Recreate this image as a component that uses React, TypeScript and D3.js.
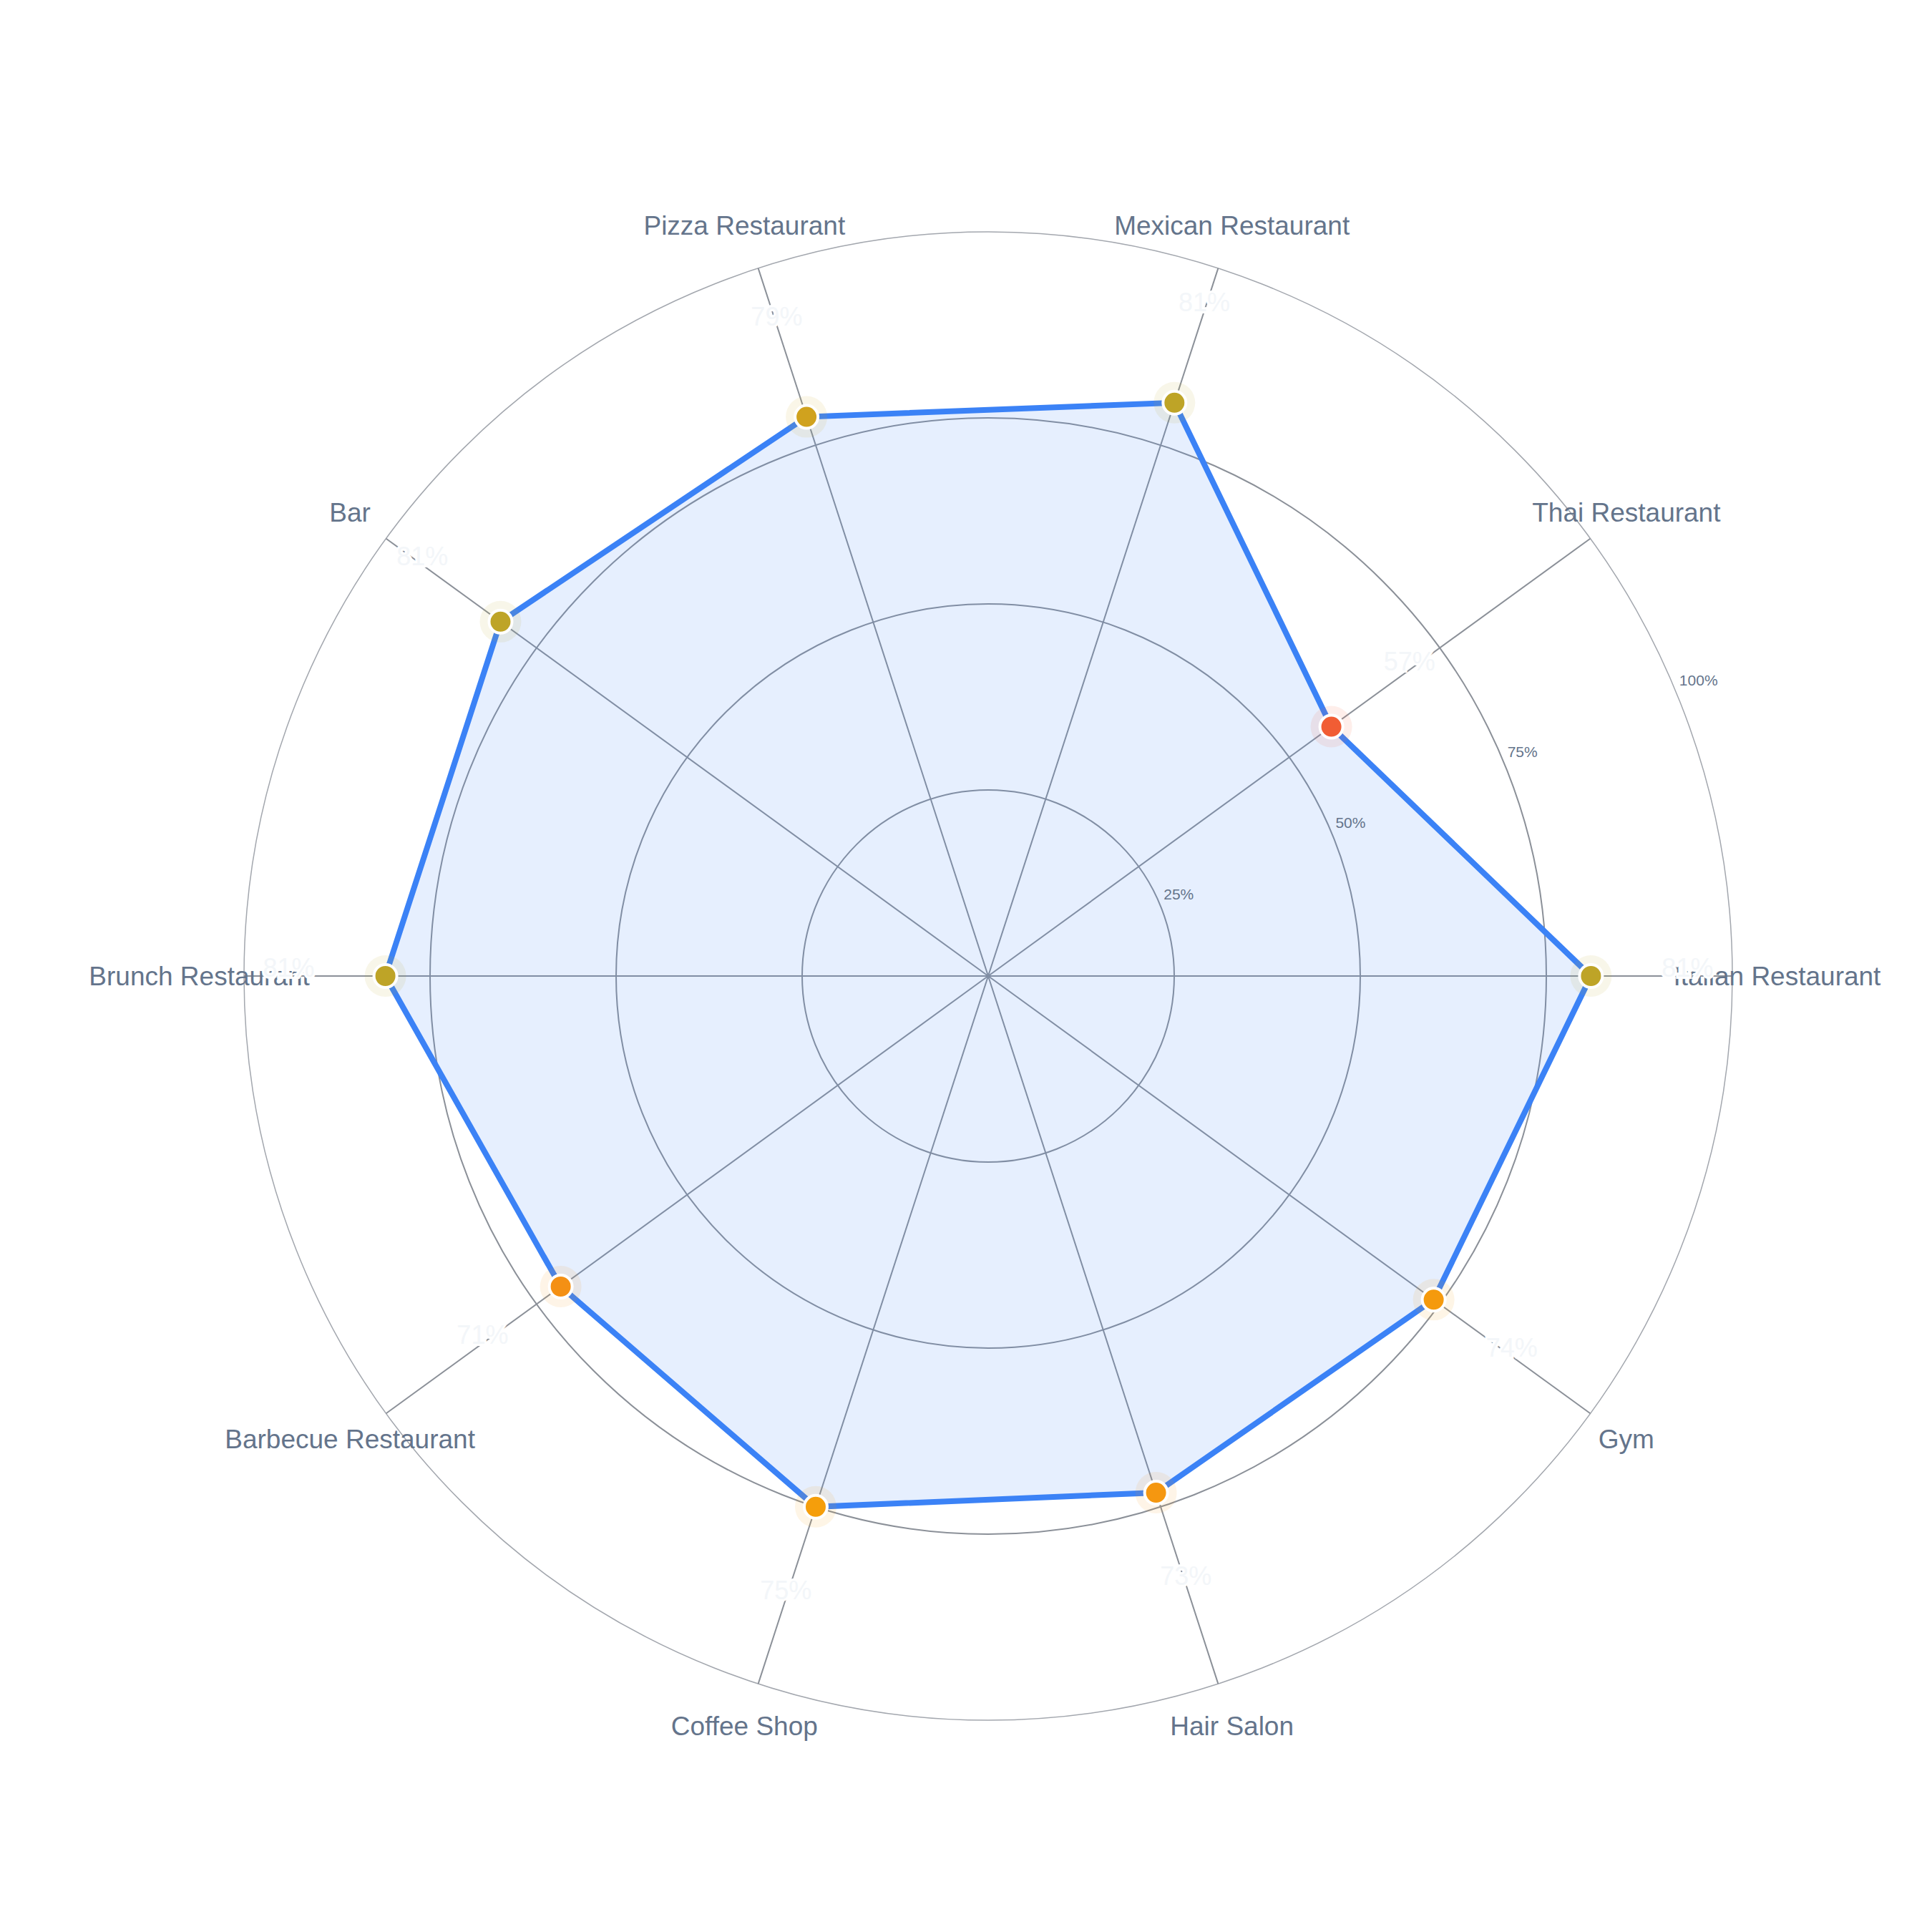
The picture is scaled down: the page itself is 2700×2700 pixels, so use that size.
import * as d3 from 'd3'

const categories = [
  'Italian Restaurant',
  'Thai Restaurant',
  'Mexican Restaurant',
  'Pizza Restaurant',
  'Bar',
  'Brunch Restaurant',
  'Barbecue Restaurant',
  'Coffee Shop',
  'Hair Salon',
  'Gym',
]
const values = [81, 57, 81, 79, 81, 81, 71, 75, 73, 74]
const ticks = [25, 50, 75, 100]

const WIDTH = 2700
const HEIGHT = 2700
const CX = 1381
const CY = 1364
const R = 1040

const r = d3.scaleLinear().domain([0, 100]).range([0, R])
// value -> marker colour (red -> amber -> green)
const color = d3.scaleLinear<string>()
  .domain([50, 75, 100])
  .range(['#ef4444', '#f59e0b', '#10b981'])
  .interpolate(d3.interpolateRgb)
  .clamp(true)

const angle = (i: number) => (i * 2 * Math.PI) / categories.length
const px = (i: number, rad: number) => CX + rad * Math.cos(angle(i))
const py = (i: number, rad: number) => CY - rad * Math.sin(angle(i))

export default function App() {
  const pts: [number, number][] = values.map((v, i) => [px(i, r(v)), py(i, r(v))])
  const area = d3.line().curve(d3.curveLinearClosed)(pts) || ''
  const font = '"Liberation Sans", Arial, Helvetica, sans-serif'

  return (
    <svg width={WIDTH} height={HEIGHT} style={{ position: 'absolute', left: 0, top: 0, background: '#fff' }}>
      {/* grid rings */}
      {ticks.map((t) => (
        <circle key={t} cx={CX} cy={CY} r={r(t)} fill="none"
          stroke={t === 100 ? '#a3a7ae' : '#8b9098'}
          strokeWidth={t === 100 ? 1.5 : 2} />
      ))}
      {/* spokes */}
      {categories.map((c, i) => (
        <line key={c} x1={CX} y1={CY} x2={px(i, R)} y2={py(i, R)} stroke="#8b9098" strokeWidth={2} />
      ))}

      <path d={area} fill="#3b82f6" fillOpacity={0.13} stroke="#3b82f6" strokeWidth={8} strokeLinejoin="miter" />

      {/* tick labels */}
      {ticks.map((t) => {
        const a = Math.PI / 8
        return (
          <text key={t} x={CX + r(t) * Math.cos(a) + 5} y={CY - r(t) * Math.sin(a) - 8}
            fontFamily={font} fontSize={21} fill="#64748b">{t}%</text>
        )
      })}

      {/* category labels */}
      {categories.map((c, i) => (
        <text key={c} x={px(i, R * 1.06)} y={py(i, R * 1.06)} textAnchor="middle" dominantBaseline="central"
          fontFamily={font} fontSize={37} fill="#64748b">{c}</text>
      ))}

      {/* markers */}
      {values.map((v, i) => (
        <g key={i}>
          <circle cx={pts[i][0]} cy={pts[i][1]} r={29} fill={color(v)} fillOpacity={0.1} />
          <circle cx={pts[i][0]} cy={pts[i][1]} r={16} fill={color(v)} stroke="#fff" strokeWidth={4} />
        </g>
      ))}

      {/* value labels */}
      {values.map((v, i) => (
        <text key={i} x={px(i, r(v) + 135)} y={py(i, r(v) + 135) - 12} textAnchor="middle" dominantBaseline="central"
          fontFamily={font} fontSize={36} fill="#f3f6f9" stroke="#fff" strokeWidth={6} paintOrder="stroke"
          style={{ paintOrder: 'stroke' }}>{v}%</text>
      ))}
    </svg>
  )
}
